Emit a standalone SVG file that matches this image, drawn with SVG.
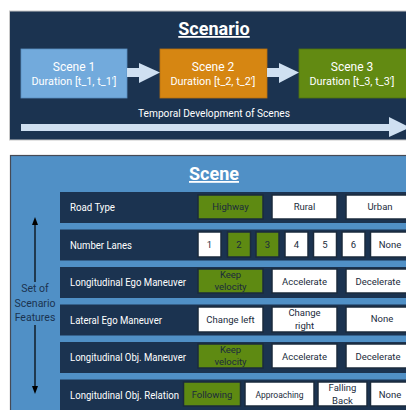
<svg xmlns="http://www.w3.org/2000/svg" width="406" height="410" viewBox="0 0 406 410">
<style>
text{font-family:"Roboto","Liberation Sans",sans-serif}
.title{font-size:18px;font-weight:bold;fill:#ffffff;text-anchor:middle;text-decoration:underline}
.sn{font-size:12px;fill:#ffffff;text-anchor:middle}
.dur{font-size:10px;fill:#ffffff;text-anchor:middle}
.lbl{font-size:10.5px;fill:#ffffff}
.opt{font-size:9.5px;fill:#1b2b3c;text-anchor:middle}
.row{fill:#1b3350}
.w{fill:#ffffff;stroke:#1b2b3c;stroke-width:1.5}
.g{fill:#5e8a12;stroke:#1b2b3c;stroke-width:1.5}
.side{font-size:10.5px;fill:#1b3350;text-anchor:middle}
</style>
<defs>
<marker id="ah" markerWidth="8" markerHeight="8" refX="4" refY="4" orient="auto" markerUnits="userSpaceOnUse">
<path d="M0,1 L8,4 L0,7 Z" fill="#000"/>
</marker>
</defs>
<rect width="406" height="410" fill="#ffffff"/>
<g id="scenario-panel">
<rect x="9.5" y="11" width="400" height="129" fill="#1b3350" stroke="#c8c8c8" stroke-width="1"/>
<text class="title" x="214" y="35">Scenario</text>
</g>
<g id="scene1">
<rect x="21" y="49" width="106" height="49" fill="#72aadc" stroke="#5a8fc0" stroke-width="0.8"/>
<text class="sn" x="74" y="71">Scene 1</text>
<text class="dur" x="74" y="85" textLength="85" lengthAdjust="spacingAndGlyphs">Duration [t_1, t_1']</text>
</g>
<g id="scene2">
<rect x="160" y="49" width="107" height="49" fill="#d68612" stroke="#b87010" stroke-width="0.8"/>
<text class="sn" x="213" y="71">Scene 2</text>
<text class="dur" x="213" y="85" textLength="85" lengthAdjust="spacingAndGlyphs">Duration [t_2, t_2']</text>
</g>
<g id="scene3">
<rect x="299" y="49" width="110" height="49" fill="#628a12" stroke="#4f7010" stroke-width="0.8"/>
<text class="sn" x="352" y="71">Scene 3</text>
<text class="dur" x="352" y="85" textLength="85" lengthAdjust="spacingAndGlyphs">Duration [t_3, t_3']</text>
</g>
<g id="temporal-label">
<text class="dur" x="214" y="117" style="font-size:10.5px" textLength="152" lengthAdjust="spacingAndGlyphs">Temporal Development of Scenes</text>
</g>
<g id="scene-panel">
<rect x="10.5" y="155.5" width="400" height="260" fill="#5090c6" stroke="#454a55" stroke-width="1.2"/>
<text class="title" x="214" y="180">Scene</text>
</g>
<g id="connectors">
<path d="M127,68 L139,68 L139,63 L160,72.5 L139,83 L139,77 L127,77 Z" fill="#cfe0f1"/>
<path d="M267,68 L279,68 L279,63 L299,72.5 L279,83 L279,77 L267,77 Z" fill="#cfe0f1"/>
<path d="M21,124 L389,124 L389,117 L410,127.5 L389,137 L389,131 L21,131 Z" fill="#cfe0f1"/>
<line x1="35" y1="282" x2="35" y2="221" stroke="#000" stroke-width="1.2" marker-end="url(#ah)"/>
<line x1="35" y1="325" x2="35" y2="390" stroke="#000" stroke-width="1.2" marker-end="url(#ah)"/>
</g>
<g id="side-label">
<text class="side" x="35" y="292">Set of</text>
<text class="side" x="35" y="307">Scenario</text>
<text class="side" x="35" y="321">Features</text>
</g>
<g id="row-road-type">
<rect class="row" x="60" y="192" width="350" height="31"/>
<text class="lbl" x="70" y="211" textLength="45" lengthAdjust="spacingAndGlyphs">Road Type</text>
<rect class="g" x="198" y="195" width="65" height="24"/><text class="opt" x="230.5" y="210">Highway</text>
<rect class="w" x="272" y="195" width="65" height="24"/><text class="opt" x="304.5" y="210">Rural</text>
<rect class="w" x="346" y="195" width="70" height="24"/><text class="opt" x="380" y="210">Urban</text>
</g>
<g id="row-number-lanes">
<rect class="row" x="60" y="229.5" width="350" height="31"/>
<text class="lbl" x="70" y="248.5" textLength="62" lengthAdjust="spacingAndGlyphs">Number Lanes</text>
<rect class="w" x="198" y="232" width="23" height="25"/><text class="opt" x="209.5" y="248">1</text>
<rect class="g" x="227.5" y="232" width="23" height="25"/><text class="opt" x="239" y="248">2</text>
<rect class="g" x="256" y="232" width="23" height="25"/><text class="opt" x="267.5" y="248">3</text>
<rect class="w" x="285" y="232" width="23" height="25"/><text class="opt" x="296.5" y="248">4</text>
<rect class="w" x="313.5" y="232" width="23" height="25"/><text class="opt" x="325" y="248">5</text>
<rect class="w" x="342" y="232" width="23" height="25"/><text class="opt" x="353.5" y="248">6</text>
<rect class="w" x="370.5" y="232" width="40" height="25"/><text class="opt" x="390" y="248">None</text>
</g>
<g id="row-long-ego">
<rect class="row" x="60" y="267" width="350" height="31"/>
<text class="lbl" x="70" y="286" textLength="116" lengthAdjust="spacingAndGlyphs">Longitudinal Ego Maneuver</text>
<rect class="g" x="198" y="269" width="65" height="24"/><text class="opt" x="230.5" y="278">Keep</text><text class="opt" x="230.5" y="290">velocity</text>
<rect class="w" x="272" y="269" width="65" height="24"/><text class="opt" x="304.5" y="284.5">Accelerate</text>
<rect class="w" x="346" y="269" width="70" height="24"/><text class="opt" x="378" y="284.5">Decelerate</text>
</g>
<g id="row-lat-ego">
<rect class="row" x="60" y="304.5" width="350" height="31"/>
<text class="lbl" x="70" y="323.5" textLength="92" lengthAdjust="spacingAndGlyphs">Lateral Ego Maneuver</text>
<rect class="w" x="198" y="307" width="65" height="25"/><text class="opt" x="230.5" y="323">Change left</text>
<rect class="w" x="272" y="307" width="65" height="25"/><text class="opt" x="304.5" y="316">Change</text><text class="opt" x="304.5" y="328.5">right</text>
<rect class="w" x="346" y="307" width="70" height="25"/><text class="opt" x="382" y="322">None</text>
</g>
<g id="row-long-obj">
<rect class="row" x="60" y="342" width="350" height="31"/>
<text class="lbl" x="70" y="361" textLength="116" lengthAdjust="spacingAndGlyphs">Longitudinal Obj. Maneuver</text>
<rect class="g" x="198" y="344" width="65" height="24"/><text class="opt" x="230.5" y="353">Keep</text><text class="opt" x="230.5" y="365">velocity</text>
<rect class="w" x="272" y="344" width="65" height="24"/><text class="opt" x="304.5" y="359.5">Accelerate</text>
<rect class="w" x="346" y="344" width="70" height="24"/><text class="opt" x="378" y="359.5">Decelerate</text>
</g>
<g id="row-long-rel">
<rect class="row" x="60" y="379.5" width="350" height="31"/>
<text class="lbl" x="70" y="398.5" textLength="109" lengthAdjust="spacingAndGlyphs">Longitudinal Obj. Relation</text>
<rect class="g" x="183.5" y="382" width="57" height="24"/><text class="opt" x="212" y="397.5">Following</text>
<rect class="w" x="245" y="382" width="69" height="24"/><text class="opt" x="279.5" y="397.5" textLength="48" lengthAdjust="spacingAndGlyphs">Approaching</text>
<rect class="w" x="318" y="382" width="49" height="24"/><text class="opt" x="342.5" y="391">Falling</text><text class="opt" x="342.5" y="403.5">Back</text>
<rect class="w" x="370.5" y="382" width="40" height="24"/><text class="opt" x="390" y="397.5">None</text>
</g>
</svg>
